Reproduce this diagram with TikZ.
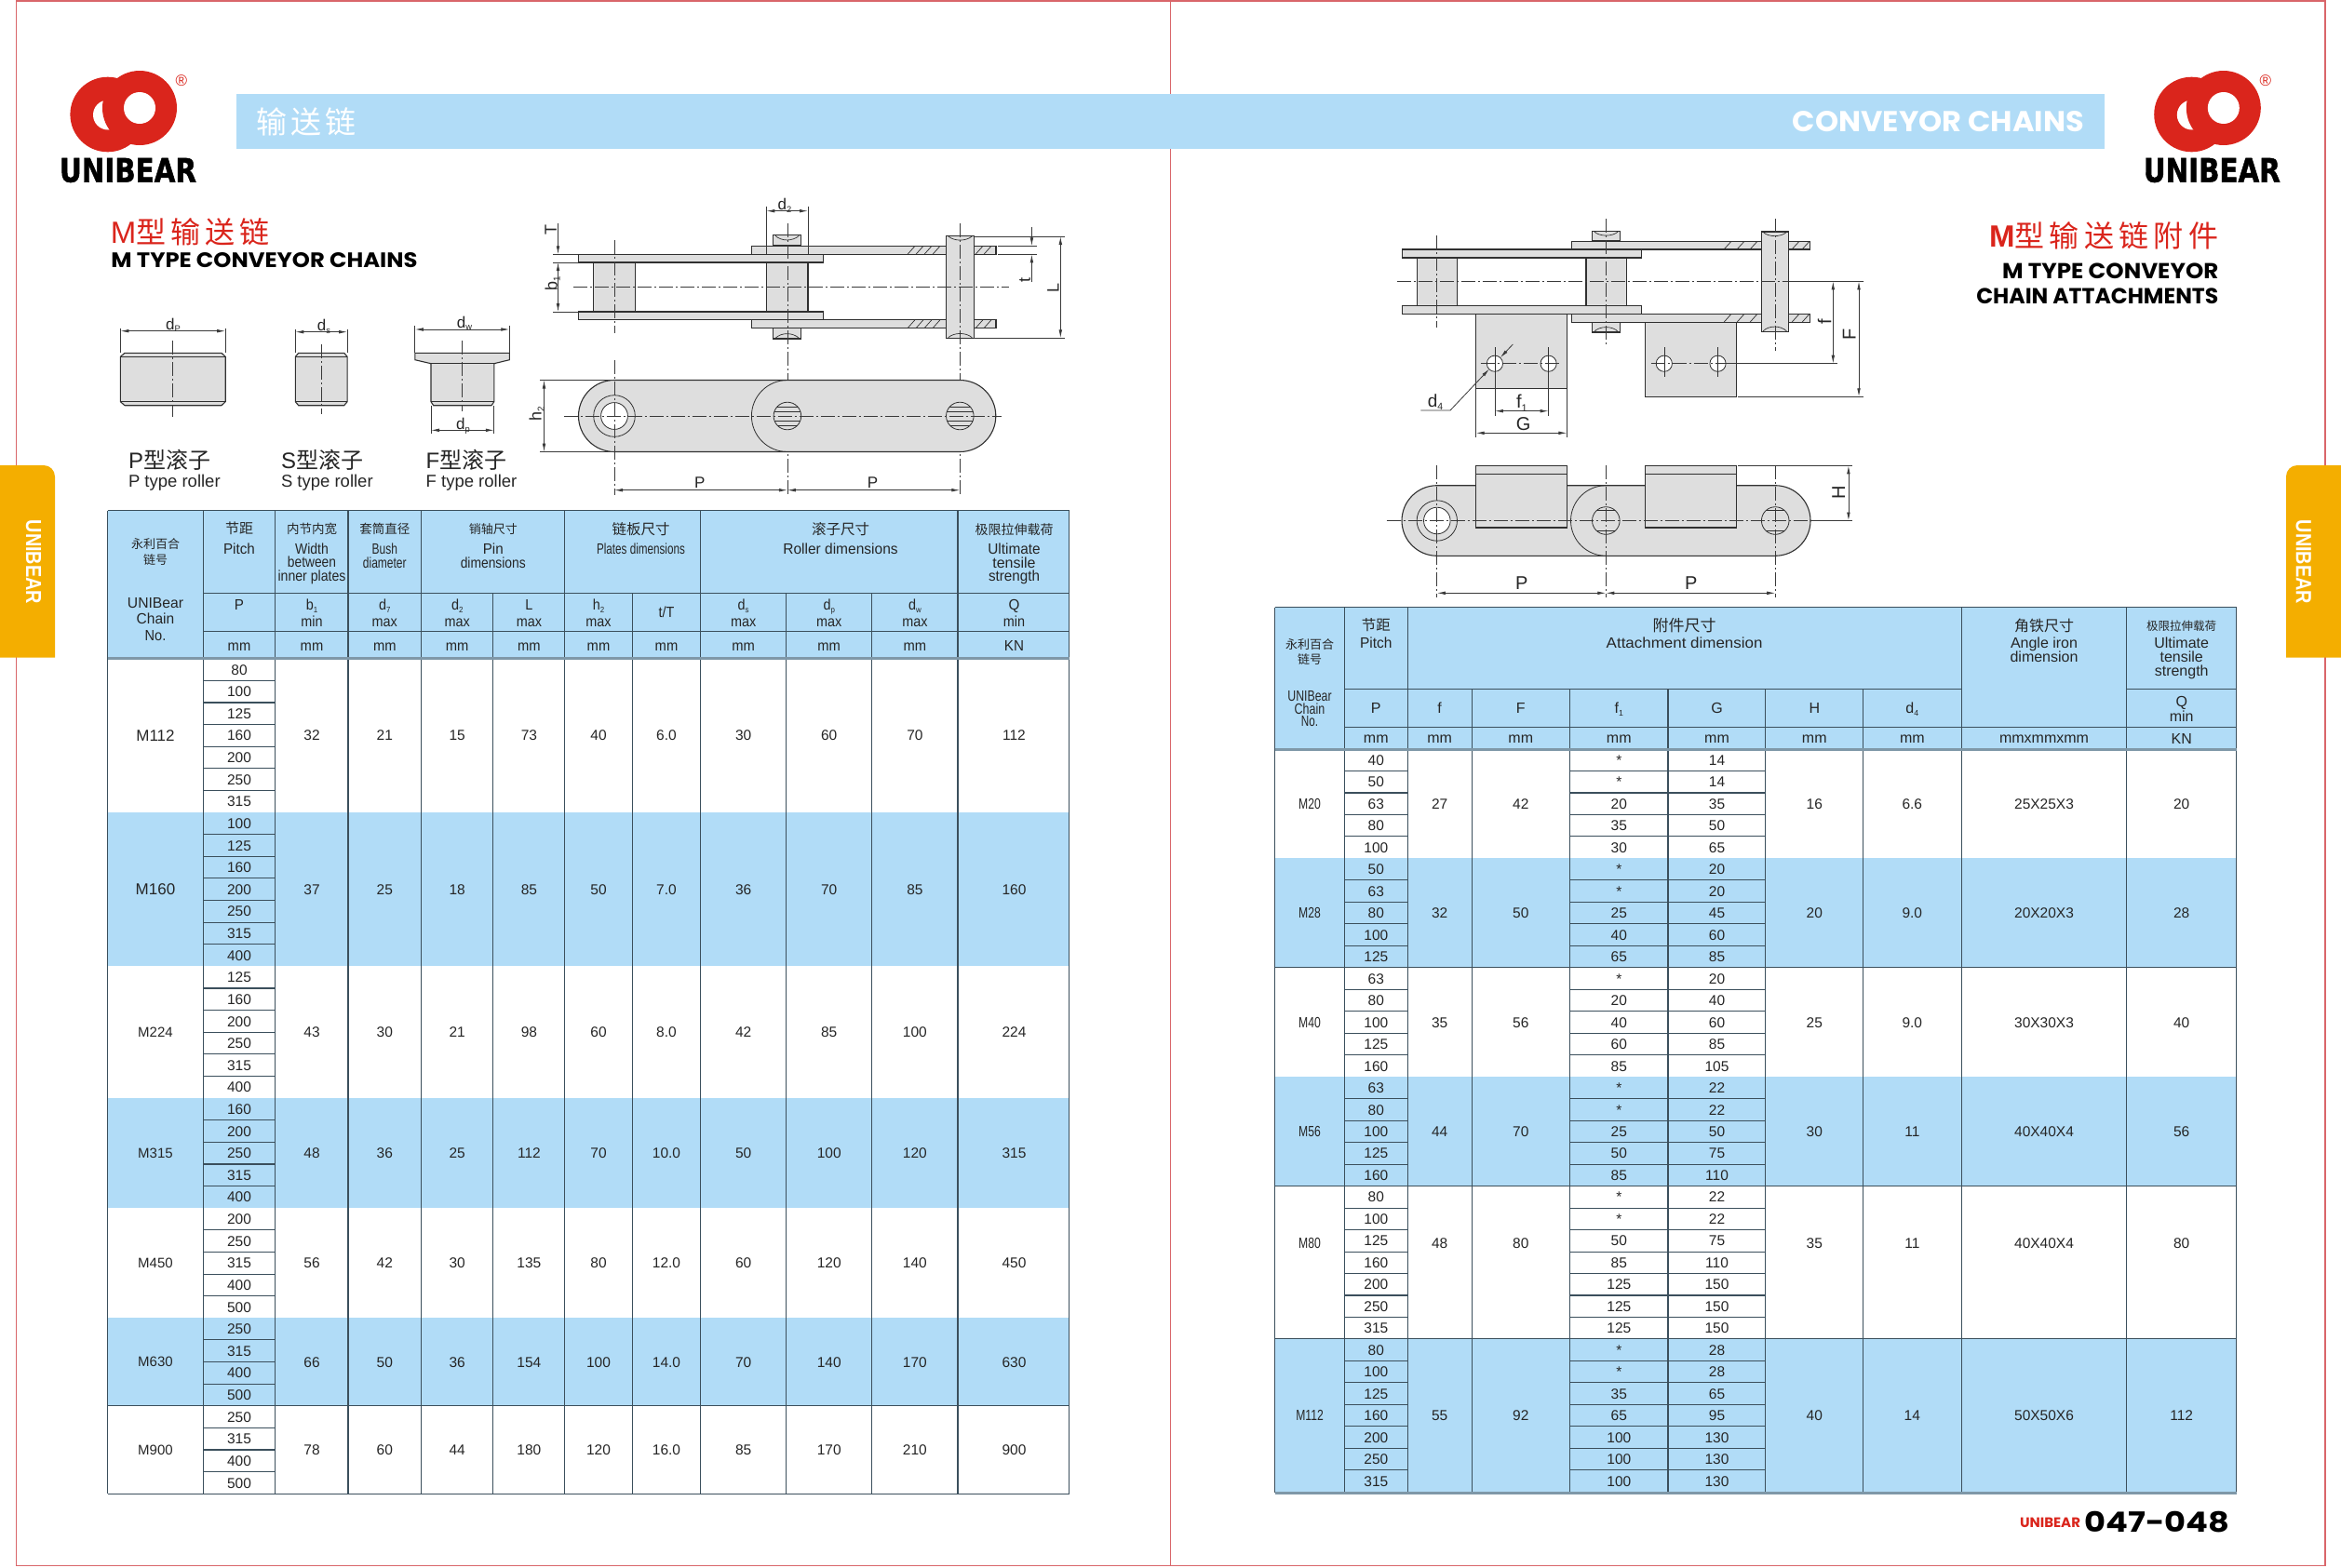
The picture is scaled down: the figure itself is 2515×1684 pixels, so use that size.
\documentclass[tikz,border=0pt]{standalone}
\usepackage{fontspec,graphicx}
\usetikzlibrary{arrows.meta}
\setmainfont{Liberation Sans}
\newfontfamily\cjk{Noto Sans CJK SC}
\newfontfamily\headf{Poppins}
\newfontfamily\logof[BoldFeatures={FakeBold=1.5}]{DejaVu Sans}
\definecolor{blu}{HTML}{B1DCF7}
\definecolor{pg}{HTML}{D9666A}
\definecolor{org}{HTML}{F4AE00}
\definecolor{rd}{HTML}{DA251C}
\definecolor{tline}{HTML}{3B4F5C}
\definecolor{tthick}{HTML}{7F98A8}
\definecolor{txc}{HTML}{262626}
\definecolor{gry}{HTML}{DEDEDE}
\definecolor{shp}{HTML}{303030}
\definecolor{dimc}{HTML}{3A3A3A}
\tikzset{
 txt/.style={inner sep=0,anchor=base,yshift={-0.36*#1 pt},text=txc,font=\fontsize{#1}{#1}\selectfont},
 txl/.style={inner sep=0,anchor=base west,text=txc,font=\fontsize{#1}{#1}\selectfont},
 rtx/.style={inner sep=0,rotate=90,text=txc,font=\fontsize{#1}{#1}\selectfont},
 part/.style={draw=shp,fill=gry,line width=1.1pt},
 thin1/.style={draw=shp,line width=.7pt},
 thin2/.style={draw=shp,line width=.45pt},
 cl/.style={draw=dimc,line width=.7pt,dash pattern=on 15pt off 3pt on 2pt off 3pt},
 ext/.style={draw=dimc,line width=.7pt},
 dm/.style={draw=dimc,line width=.8pt,{Latex[length=9pt,width=3.6pt]}-{Latex[length=9pt,width=3.6pt]}},
 dme/.style={draw=dimc,line width=.8pt,-{Latex[length=9pt,width=3.6pt]}},
 tl/.style={draw=tline,line width=1.1pt},
 tb/.style={draw=tthick,line width=3pt},
}
\newcommand\tx[4]{\node[txt=#3] at (#1,#2) {#4};}
\newcommand\ts[4]{\node[txt=16] at (#1,#2) {\scalebox{#3}[1]{#4}};}
\newcommand\sbs[1]{\raisebox{-.16em}{\scalebox{.55}{#1}}}
\newcommand\fitn[6][]{\node[inner sep=0,#1] at (#2,#3) {\resizebox{#4pt}{#5pt}{#6}};}
\newcommand\hhole[4]{\begin{scope}\clip (#1,#2) circle[radius=#3];\fill[gry] (#1,#2) circle[radius=#3];
 \foreach \dd in {#4} {\draw[thin2] (#1-#3,#2+\dd)--(#1+#3,#2+\dd);}\end{scope}
 \draw[draw=shp,line width=.8pt] (#1,#2) circle[radius=#3];}
\newcommand\logomark[1]{\begin{scope}[shift={(#1,0)}]
 \fill[rd] (115.7,123) circle[radius=40.3];
 \fill[white] (116,123.5) circle[radius=16];
 \fill[rd] (150,116) circle[radius=40];
 \fill[white] (150,116) circle[radius=17];
 \node[inner sep=0,text=rd,font=\fontsize{17}{17}\selectfont] at (195,87) {®};
 \fitn{137.5}{183}{147}{25.7}{\logof\bfseries UNIBEAR}
 \end{scope}}
\begin{document}
\begin{tikzpicture}[x=1pt,y=-1pt]
\useasboundingbox (0,0) rectangle (2515,1684);
\fill[white] (0,0) rectangle (2515,1684);
% page frame
\draw[draw=pg,line width=1.5pt] (17.3,1)--(2498,1)--(2498,1682.7)--(17.3,1682.7)--cycle (1257.3,1)--(1257.3,1682.7);
% tabs
\fill[org] (0,500)--(47,500) arc[start angle=-90,end angle=0,radius=12]--(59,706.7)--(0,706.7)--cycle;
\fill[org] (2515,500)--(2468,500) arc[start angle=-90,end angle=-180,radius=12]--(2456,706.7)--(2515,706.7)--cycle;
\node[inner sep=0,rotate=-90] at (36,604) {\color{white}\resizebox{90.6pt}{16pt}{\bfseries UNIBEAR}};
\node[inner sep=0,rotate=-90] at (2474.7,604) {\color{white}\resizebox{90.6pt}{16pt}{\bfseries UNIBEAR}};
% banner
\fill[blu] (253.7,100.7) rectangle (2261,160);
\node[inner sep=0,anchor=base west,text=white,font=\cjk\fontsize{33}{33}\selectfont] at (275,143) {输\kern4pt 送\kern4pt 链};
\fitn[text=white]{2082.5}{131}{313}{22}{\headf\bfseries CONVEYOR CHAINS}
% logos
\logomark{0}
\logomark{2238.8}
% headings
\node[inner sep=0,anchor=base west,text=rd] at (118.6,261.7) {\fontsize{33}{33}\selectfont M\cjk\fontsize{32}{32}\selectfont 型\kern5pt 输\kern5pt 送\kern5pt 链};
\fitn{284}{280}{329}{16}{\headf\bfseries M TYPE CONVEYOR CHAINS}
\node[inner sep=0,anchor=base east,text=rd] at (2383.3,265.5) {\fontsize{33}{33}\selectfont\bfseries M\cjk\mdseries\fontsize{32}{32}\selectfont 型\kern5.3pt 输\kern5.3pt 送\kern5.3pt 链\kern5.3pt 附\kern5.3pt 件};
\fitn{2267.2}{291}{232.3}{16.6}{\headf\bfseries M TYPE CONVEYOR}
\fitn{2253.3}{318.3}{260}{16.7}{\headf\bfseries CHAIN ATTACHMENTS}
% footer
\fitn[text=rd]{2202.5}{1636}{65}{10.4}{\headf\bfseries UNIBEAR}
\fitn{2317.2}{1636}{156}{22.3}{\headf\bfseries 047-048}

% ===== rollers =====
\draw[part] (129.4,383.3)--(134,379.3)--(238,379.3)--(242.2,383.3)--(242.2,431.7)--(238,435.7)--(134,435.7)--(129.4,431.7)--cycle;
\draw[thin1] (129.4,383.3)--(242.2,383.3) (129.4,431.7)--(242.2,431.7);
\draw[cl] (185.6,366)--(185.6,448.3);
\draw[ext] (129.4,352.7)--(129.4,379.3) (242.2,352.7)--(242.2,379.3);
\draw[dm] (129.4,355.7)--(242.2,355.7);
\tx{186}{348}{17}{d\sbs{P}}
\draw[part] (317.3,383.3)--(320.7,379.3)--(369.7,379.3)--(373.1,383.3)--(373.1,431.7)--(369.7,435.7)--(320.7,435.7)--(317.3,431.7)--cycle;
\draw[thin1] (317.3,383.3)--(373.1,383.3) (317.3,431.7)--(373.1,431.7);
\draw[cl] (345.6,370)--(345.6,445);
\draw[ext] (317.3,353.5)--(317.3,379.3) (373.1,353.5)--(373.1,379.3);
\draw[dm] (317.3,356.7)--(373.1,356.7);
\tx{348}{349.5}{17}{d\sbs{s}}
\draw[part] (445.8,379.3)--(547.3,379.3)--(547.3,386.7)--(530.8,390.7)--(530.8,431.7)--(528,435.7)--(465.7,435.7)--(463,431.7)--(463,390.7)--(445.8,386.7)--cycle;
\draw[thin1] (463,431.7)--(530.8,431.7) (463,390.7)--(530.8,390.7);
\draw[cl] (496.7,366)--(496.7,441.7);
\draw[ext] (445.8,350)--(445.8,379.3) (547.3,350)--(547.3,379.3) (463,436)--(463,466) (530.8,436)--(530.8,466);
\draw[dm] (445.8,354)--(547.3,354);
\draw[dm] (463,462.3)--(530.8,462.3);
\tx{499}{346}{17}{d\sbs{w}}
\tx{497.5}{455.2}{17}{d\sbs{p}}
\node[txl=18.5] at (137.8,503) {\fontsize{24}{24}\selectfont P\cjk 型滚子};
\node[txl=18.5] at (301.8,503) {\fontsize{24}{24}\selectfont S\cjk 型滚子};
\node[txl=18.5] at (457.5,503) {\fontsize{24}{24}\selectfont F\cjk 型滚子};
\node[txl=18.5] at (137.8,523) {P type roller};
\node[txl=18.5] at (301.8,523) {S type roller};
\node[txl=18.5] at (457.5,523) {F type roller};

% ===== chain 1 side =====
\draw[part] (807.5,264.3) rectangle (1070,273.3);
\draw[part] (807.5,343.7) rectangle (1070,352.7);
\foreach \hx in {975,984,...,1010} {\draw[thin1] (\hx,273.3)--++(8,-9) (\hx,352.7)--++(8,-9);}
\foreach \hx in {1048,1057} {\draw[thin1] (\hx,273.3)--++(8,-9) (\hx,352.7)--++(8,-9);}
\draw[part] (637.9,282) rectangle (682.6,335);
\draw[part] (823.3,282) rectangle (868,335);
\draw[part] (621.3,273.3) rectangle (884.2,282);
\draw[part] (621.3,335) rectangle (884.2,343.7);
\draw[part] (830.9,252.7) rectangle (860.5,264);
\draw[part] (830.9,352.7) rectangle (860.5,364);
\draw[thin1] (833,253.2) .. controls (839,259.5) and (852,259.5) .. (858.5,253.2);
\draw[thin1] (833,363.5) .. controls (839,357) and (852,357) .. (858.5,363.5);
\draw[part] (1016.7,253.3) rectangle (1046.3,363.3);
\draw[thin1] (1018.7,253.8) .. controls (1025,259.5) and (1038,259.5) .. (1044.3,253.8);
\draw[thin1] (1018.7,362.8) .. controls (1025,357) and (1038,357) .. (1044.3,362.8);
\draw[cl] (616,308.3)--(1084,308.3);
\draw[cl] (660,258.3)--(660,358.3);
\draw[cl] (845.9,240)--(845.9,531.7);
\draw[cl] (1031.3,240)--(1031.3,531.7);
\draw[ext] (823.3,221.7)--(823.3,273) (868,221.7)--(868,273);
\draw[dm] (823.3,226.7)--(868,226.7);
\tx{843}{219.5}{17}{d\sbs{2}}
\draw[ext] (594,273.3)--(621,273.3) (594,282)--(621,282) (594,335)--(621,335);
\draw[dme] (599.5,239.5)--(599.5,273.3);
\draw[dm] (599.5,282)--(599.5,335);
\node[rtx=18] at (591.6,246.7) {T};
\node[rtx=18] at (593.6,305) {b\sbs{1}};
\draw[ext] (1046.3,254)--(1144.4,254) (1046.3,363.3)--(1144.4,363.3) (1072,264.3)--(1113.6,264.3) (1072,273.3)--(1113.6,273.3);
\draw[dme] (1108.4,244)--(1108.4,264.3);
\draw[dme] (1108.4,303.3)--(1108.4,273.3);
\draw[dm] (1139.3,254)--(1139.3,363.3);
\node[rtx=18] at (1101,300.7) {t};
\node[rtx=18] at (1131.4,309.3) {L};
% chain 1 front
\draw[part] (660,408.5)--(1031.3,408.5) arc[start angle=-90,end angle=90,radius=38.5]--(660,485.5) arc[start angle=90,end angle=270,radius=38.5]--cycle;
\draw[thin1,line width=.8pt] (845.9,408.5) arc[start angle=-90,end angle=-270,radius=38.5];
\draw[draw=shp,line width=.8pt,fill=gry] (660,447) circle[radius=22.3];
\draw[draw=shp,line width=.8pt,fill=white] (660,447) circle[radius=14.4];
\hhole{845.9}{447}{14.8}{-10,-5,5,10}
\hhole{1031.3}{447}{14.8}{-10,-5,5,10}
\draw[cl] (605.5,447)--(1076,447);
\draw[cl] (660,386.7)--(660,531.7);
\draw[ext] (579.8,408.5)--(660,408.5) (579.8,485.5)--(660,485.5);
\draw[dm] (584.5,408.5)--(584.5,485.5);
\node[rtx=18] at (576.6,445) {h\sbs{2}};
\draw[dm] (660,526.7)--(845.9,526.7);
\draw[dm] (845.9,526.7)--(1031.3,526.7);
\tx{751.8}{518.3}{17}{P}
\tx{937.6}{518.3}{17}{P}

% ===== chain 2 side =====
\draw[part] (1585.7,337.3) rectangle (1683.4,417.7);
\draw[part] (1767.6,346.3) rectangle (1865.3,426.3);
\draw[part] (1688.2,259.3) rectangle (1944.8,268);
\draw[part] (1688.2,337.3) rectangle (1944.8,346.3);
\foreach \hx in {1852,1866,1880} {\draw[thin1] (\hx,268)--++(8,-8.7) (\hx,346.3)--++(8,-9);}
\foreach \hx in {1925,1936} {\draw[thin1] (\hx,268)--++(8,-8.7) (\hx,346.3)--++(8,-9);}
\draw[part] (1522.1,277) rectangle (1565.6,328.3);
\draw[part] (1704,277) rectangle (1747.5,328.3);
\draw[part] (1506.3,268) rectangle (1763.3,277);
\draw[part] (1506.3,328.3) rectangle (1763.3,337.3);
\draw[part] (1710.7,248.3) rectangle (1740.3,259);
\draw[part] (1710.7,346.3) rectangle (1740.3,357);
\draw[thin1] (1712.7,248.8) .. controls (1718,254.5) and (1733,254.5) .. (1738.3,248.8);
\draw[thin1] (1712.7,356.5) .. controls (1718,350) and (1733,350) .. (1738.3,356.5);
\draw[part] (1892.2,249) rectangle (1921.4,356.3);
\draw[thin1] (1894.2,249.5) .. controls (1900,255) and (1913,255) .. (1919.4,249.5);
\draw[thin1] (1894.2,355.8) .. controls (1900,349.5) and (1913,349.5) .. (1919.4,355.8);
\draw[cl] (1500.7,302.3)--(2001.7,302.3);
\draw[cl] (1543.8,253.3)--(1543.8,351.7);
\draw[cl] (1725.3,235)--(1725.3,371.7);
\draw[cl] (1907.2,235)--(1907.2,376.7);
% attachment holes
\foreach \hx in {1605.9,1663.6,1787.8,1845.5} {
 \draw[draw=shp,line width=.8pt,fill=white] (\hx,390.7) circle[radius=8.6];
 \draw[thin2] (\hx,373.3)--(\hx,405);
}
\draw[cl] (1590.5,390.7)--(1675.5,390.7);
\draw[cl] (1773.6,390.7)--(1855,390.7);
\draw[ext] (1855,390.7)--(1974,390.7) (1914.7,302.3)--(2001.7,302.3) (1867.3,426.3)--(2001.7,426.3);
\draw[dm] (1969.3,302.3)--(1969.3,390.7);
\draw[dm] (1997,302.3)--(1997,426.3);
\node[rtx=20] at (1960.2,346) {f};
\node[rtx=20] at (1986.7,359.3) {F};
\draw[dme] (1625.3,370)--(1611.8,384.3);
\draw[dme] (1526.4,441)--(1558,441)--(1600,396.5);
\tx{1542}{430.7}{19}{d\sbs{4}}
\draw[ext] (1605.9,400)--(1605.9,446.7) (1663.6,400)--(1663.6,446.7) (1585.7,418)--(1585.7,470) (1683.4,418)--(1683.4,470);
\draw[dm] (1605.9,441.7)--(1663.6,441.7);
\draw[dm] (1585.7,465.3)--(1683.4,465.3);
\tx{1635}{431.7}{20}{f\sbs{1}}
\tx{1636.7}{455.7}{20}{G}
% chain 2 front
\draw[part] (1543.8,521.7)--(1907.2,521.7) arc[start angle=-90,end angle=90,radius=37.8]--(1543.8,597.3) arc[start angle=90,end angle=270,radius=37.8]--cycle;
\draw[thin1,line width=.8pt] (1725.3,521.7) arc[start angle=-90,end angle=-270,radius=37.8];
\draw[draw=shp,line width=.8pt,fill=gry] (1543.8,559.5) circle[radius=21.7];
\draw[draw=shp,line width=.8pt,fill=white] (1543.8,559.5) circle[radius=14.3];
\hhole{1725.3}{559.5}{14.8}{-11,11}
\hhole{1907.2}{559.5}{14.8}{-11,11}
\draw[part] (1585.7,500.3) rectangle (1683.4,567);
\draw[thin1] (1585.7,509)--(1683.4,509);
\draw[part] (1767.6,500.3) rectangle (1865.3,567);
\draw[thin1] (1767.6,509)--(1865.3,509);
\draw[cl] (1489.7,559.5)--(1950.3,559.5);
\draw[cl] (1543.8,500)--(1543.8,641.7);
\draw[cl] (1725.3,500)--(1725.3,641.7);
\draw[cl] (1907.2,500)--(1907.2,641.7);
\draw[ext] (1867,500.3)--(1989.9,500.3) (1945,559.5)--(1989.9,559.5);
\draw[dm] (1985.9,500.3)--(1985.9,559.5);
\node[rtx=20] at (1975.2,529) {H};
\draw[dm] (1543.8,637.3)--(1725.3,637.3);
\draw[dm] (1725.3,637.3)--(1907.2,637.3);
\tx{1634.8}{626.7}{20}{P}
\tx{1816.7}{626.7}{20}{P}

% ===== TABLE 1 =====
\fill[blu] (115.8,548.7) rectangle (1148.9,707.7);
\foreach \nm/\szz/\yi/\cnt/\bg/\ps/\vs in {
 M112/17/0/7/white/{80,100,125,160,200,250,315}/{32,21,15,73,40,6.0,30,60,70,112},
 M160/17/7/7/blu/{100,125,160,200,250,315,400}/{37,25,18,85,50,7.0,36,70,85,160},
 M224/15/14/6/white/{125,160,200,250,315,400}/{43,30,21,98,60,8.0,42,85,100,224},
 M315/15/20/5/blu/{160,200,250,315,400}/{48,36,25,112,70,10.0,50,100,120,315},
 M450/15/25/5/white/{200,250,315,400,500}/{56,42,30,135,80,12.0,60,120,140,450},
 M630/15/30/4/blu/{250,315,400,500}/{66,50,36,154,100,14.0,70,140,170,630},
 M900/15/34/4/white/{250,315,400,500}/{78,60,44,180,120,16.0,85,170,210,900}} {
 \pgfmathsetmacro\yt{707.7+\yi*23.62}
 \pgfmathsetmacro\yb{\yt+\cnt*23.62}
 \pgfmathsetmacro\ym{(\yt+\yb)/2}
 \fill[fill=\bg] (115.8,\yt) rectangle (1148.9,\yb);
 \tx{167}{\ym}{\szz}{\nm}
 \foreach \v [count=\k] in \vs {
  \pgfmathsetmacro\cx{{335,413.3,491.2,568.4,643,716,798.7,890.7,982.9,1089.5}[\k-1]}
  \tx{\cx}{\ym}{15.5}{\v}
 }
 \foreach \p [count=\k] in \ps {
  \pgfmathsetmacro\yp{\yt+(\k-.5)*23.62}
  \tx{257}{\yp}{15.5}{\p}
  \ifnum\k>1 \draw[tl] (218.5,\yp-11.81)--(295.6,\yp-11.81);\fi
 }
 \draw[tl] (115.8,\yb)--(1148.9,\yb);
}
\draw[tl] (218.5,637.3)--(1148.9,637.3) (218.5,678.3)--(1148.9,678.3);
\draw[tl] (115.8,548.7)--(1148.9,548.7);
\foreach \cx in {115.8,218.5,295.6,374,452.6,606.9,752.9,1029,1148.9} {\draw[tl] (\cx,548.7)--(\cx,1605.3);}
\foreach \cx in {529.8,679.2,844.5,936.8} {\draw[tl] (\cx,637.3)--(\cx,1605.3);}
\draw[tb] (115.8,707.7)--(1148.9,707.7);
% header text
\tx{167}{585}{13}{\cjk 永利百合}
\tx{167}{601.7}{13}{\cjk 链号}
\ts{167}{647.3}{.98}{UNIBear}
\ts{167}{665}{.97}{Chain}
\ts{167}{682.3}{.91}{No.}
\tx{257}{568.3}{15}{\cjk 节距}
\ts{257}{589.3}{.95}{Pitch}
\tx{335}{568.3}{13.5}{\cjk 内节内宽}
\ts{335}{589.3}{.875}{Width}
\ts{335}{603.7}{.86}{between}
\ts{335}{618.3}{.88}{inner plates}
\tx{413.3}{568.3}{13.5}{\cjk 套筒直径}
\ts{413.3}{589.3}{.75}{Bush}
\ts{413.3}{605}{.75}{diameter}
\tx{529.8}{569}{13}{\cjk 销轴尺寸}
\ts{529.8}{589.3}{.95}{Pin}
\ts{529.8}{605}{.865}{dimensions}
\tx{688.5}{569}{15.5}{\cjk 链板尺寸}
\ts{688.5}{589.3}{.73}{Plates dimensions}
\tx{903}{569}{15.5}{\cjk 滚子尺寸}
\ts{903}{589.3}{.97}{Roller dimensions}
\tx{1089.5}{569}{14}{\cjk 极限拉伸载荷}
\ts{1089.5}{589.3}{.96}{Ultimate}
\ts{1089.5}{604.3}{1}{tensile}
\ts{1089.5}{618.3}{.95}{strength}
\ts{257}{650}{.95}{P}
\ts{335}{650}{.9}{b\sbs{1}}
\ts{413.3}{650}{.9}{d\sbs{7}}
\ts{491.2}{650}{.9}{d\sbs{2}}
\ts{568.4}{650}{.9}{L}
\ts{643}{650}{.9}{h\sbs{2}}
\ts{716}{657.7}{.9}{t/T}
\ts{798.7}{650}{.9}{d\sbs{s}}
\ts{890.7}{650}{.9}{d\sbs{p}}
\ts{982.9}{650}{.9}{d\sbs{w}}
\ts{1089.5}{650}{.95}{Q}
\foreach \cx/\wrd in {335/min,413.3/max,491.2/max,568.4/max,643/max,798.7/max,890.7/max,982.9/max,1089.5/min} {\ts{\cx}{667.3}{.9}{\wrd}}
\foreach \cx in {257,335,413.3,491.2,568.4,643,716,798.7,890.7,982.9} {\ts{\cx}{693.3}{.92}{mm}}
\ts{1089.5}{693.3}{.95}{KN}

% ===== TABLE 2 =====
\fill[blu] (1369.5,652.7) rectangle (2402.6,805);
\foreach \nm/\yi/\cnt/\bg/\dy/\ps/\fs/\gs/\vf/\vF/\vH/\vd/\an/\vQ in {
 M20/0/5/white/0/{40,50,63,80,100}/{*,*,20,35,30}/{14,14,35,50,65}/27/42/16/6.6/25X25X3/20,
 M28/5/5/blu/0/{50,63,80,100,125}/{*,*,25,40,65}/{20,20,45,60,85}/32/50/20/9.0/20X20X3/28,
 M40/10/5/white/0/{63,80,100,125,160}/{*,20,40,60,85}/{20,40,60,85,105}/35/56/25/9.0/30X30X3/40,
 M56/15/5/blu/0/{63,80,100,125,160}/{*,*,25,50,85}/{22,22,50,75,110}/44/70/30/11/40X40X4/56,
 M80/20/7/white/-20.8/{80,100,125,160,200,250,315}/{*,*,50,85,125,125,125}/{22,22,75,110,150,150,150}/48/80/35/11/40X40X4/80,
 M112/27/7/blu/0/{80,100,125,160,200,250,315}/{*,*,35,65,100,100,100}/{28,28,65,95,130,130,130}/55/92/40/14/50X50X6/112} {
 \pgfmathsetmacro\yt{805+\yi*23.48}
 \pgfmathsetmacro\yb{\yt+\cnt*23.48}
 \pgfmathsetmacro\ym{(\yt+\yb)/2+\dy}
 \fill[fill=\bg] (1369.5,\yt) rectangle (2402.6,\yb);
 \ts{1407}{\ym}{.76}{\nm}
 \tx{1546.6}{\ym}{15.5}{\vf}
 \tx{1633.8}{\ym}{15.5}{\vF}
 \tx{1949.3}{\ym}{15.5}{\vH}
 \tx{2054.3}{\ym}{15.5}{\vd}
 \tx{2196}{\ym}{15.5}{\an}
 \tx{2343.7}{\ym}{15.5}{\vQ}
 \foreach \p [count=\k] in \ps {
  \pgfmathsetmacro\yp{\yt+(\k-.5)*23.48}
  \tx{1478.3}{\yp}{15.5}{\p}
  \ifnum\k>1 \draw[tl] (1444.5,\yp-11.74)--(1512.1,\yp-11.74) (1686.6,\yp-11.74)--(1896.9,\yp-11.74);\fi
 }
 \foreach \p [count=\k] in \fs {
  \pgfmathsetmacro\yp{\yt+(\k-.5)*23.48}
  \tx{1739.3}{\yp}{15.5}{\p}
 }
 \foreach \p [count=\k] in \gs {
  \pgfmathsetmacro\yp{\yt+(\k-.5)*23.48}
  \tx{1844.5}{\yp}{15.5}{\p}
 }
 \draw[tl] (1369.5,\yb)--(2402.6,\yb);
}
\draw[tl] (1444.5,740.3)--(2107.1,740.3) (2284.9,740.3)--(2402.6,740.3) (1444.5,781.3)--(2402.6,781.3);
\draw[tl] (1369.5,652.7)--(2402.6,652.7);
\foreach \cx in {1369.5,1444.5,1512.1,2107.1,2284.9,2402.6} {\draw[tl] (\cx,652.7)--(\cx,1604);}
\foreach \cx in {1581.1,1686.6,1792,1896.9,2001.6} {\draw[tl] (\cx,740.3)--(\cx,1604);}
\draw[tb] (1369.5,805)--(2402.6,805);
\draw[tb] (1369.5,1604)--(2402.6,1604);
\tx{1407}{692.7}{13}{\cjk 永利百合}
\tx{1407}{709.3}{13}{\cjk 链号}
\ts{1407}{747.3}{.77}{UNIBear}
\ts{1407}{761.3}{.78}{Chain}
\ts{1407}{775}{.73}{No.}
\tx{1478.3}{672.3}{15.5}{\cjk 节距}
\ts{1478.3}{690.7}{.97}{Pitch}
\tx{1809.6}{672.3}{17}{\cjk 附件尺寸}
\ts{1809.6}{690.7}{1.06}{Attachment dimension}
\tx{2196}{672.3}{16}{\cjk 角铁尺寸}
\ts{2196}{690.7}{1}{Angle iron}
\ts{2196}{705.3}{1}{dimension}
\tx{2343.7}{672.6}{12.5}{\cjk 极限拉伸载荷}
\ts{2343.7}{690.7}{1}{Ultimate}
\ts{2343.7}{705.3}{1}{tensile}
\ts{2343.7}{720.3}{1}{strength}
\ts{1478.3}{760.7}{1}{P}
\ts{1546.6}{760.7}{1}{f}
\ts{1633.8}{760.7}{1}{F}
\ts{1739.3}{760.7}{1}{f\sbs{1}}
\ts{1844.5}{760.7}{1}{G}
\ts{1949.3}{760.7}{1}{H}
\ts{2054.3}{760.7}{1}{d\sbs{4}}
\ts{2343.7}{753.3}{1}{Q}
\ts{2343.7}{770}{1}{min}
\foreach \cx in {1478.3,1546.6,1633.8,1739.3,1844.5,1949.3,2054.3} {\ts{\cx}{792.7}{1}{mm}}
\ts{2196}{792.7}{1}{mmxmmxmm}
\ts{2343.7}{793.3}{1}{KN}
\end{tikzpicture}
\end{document}
